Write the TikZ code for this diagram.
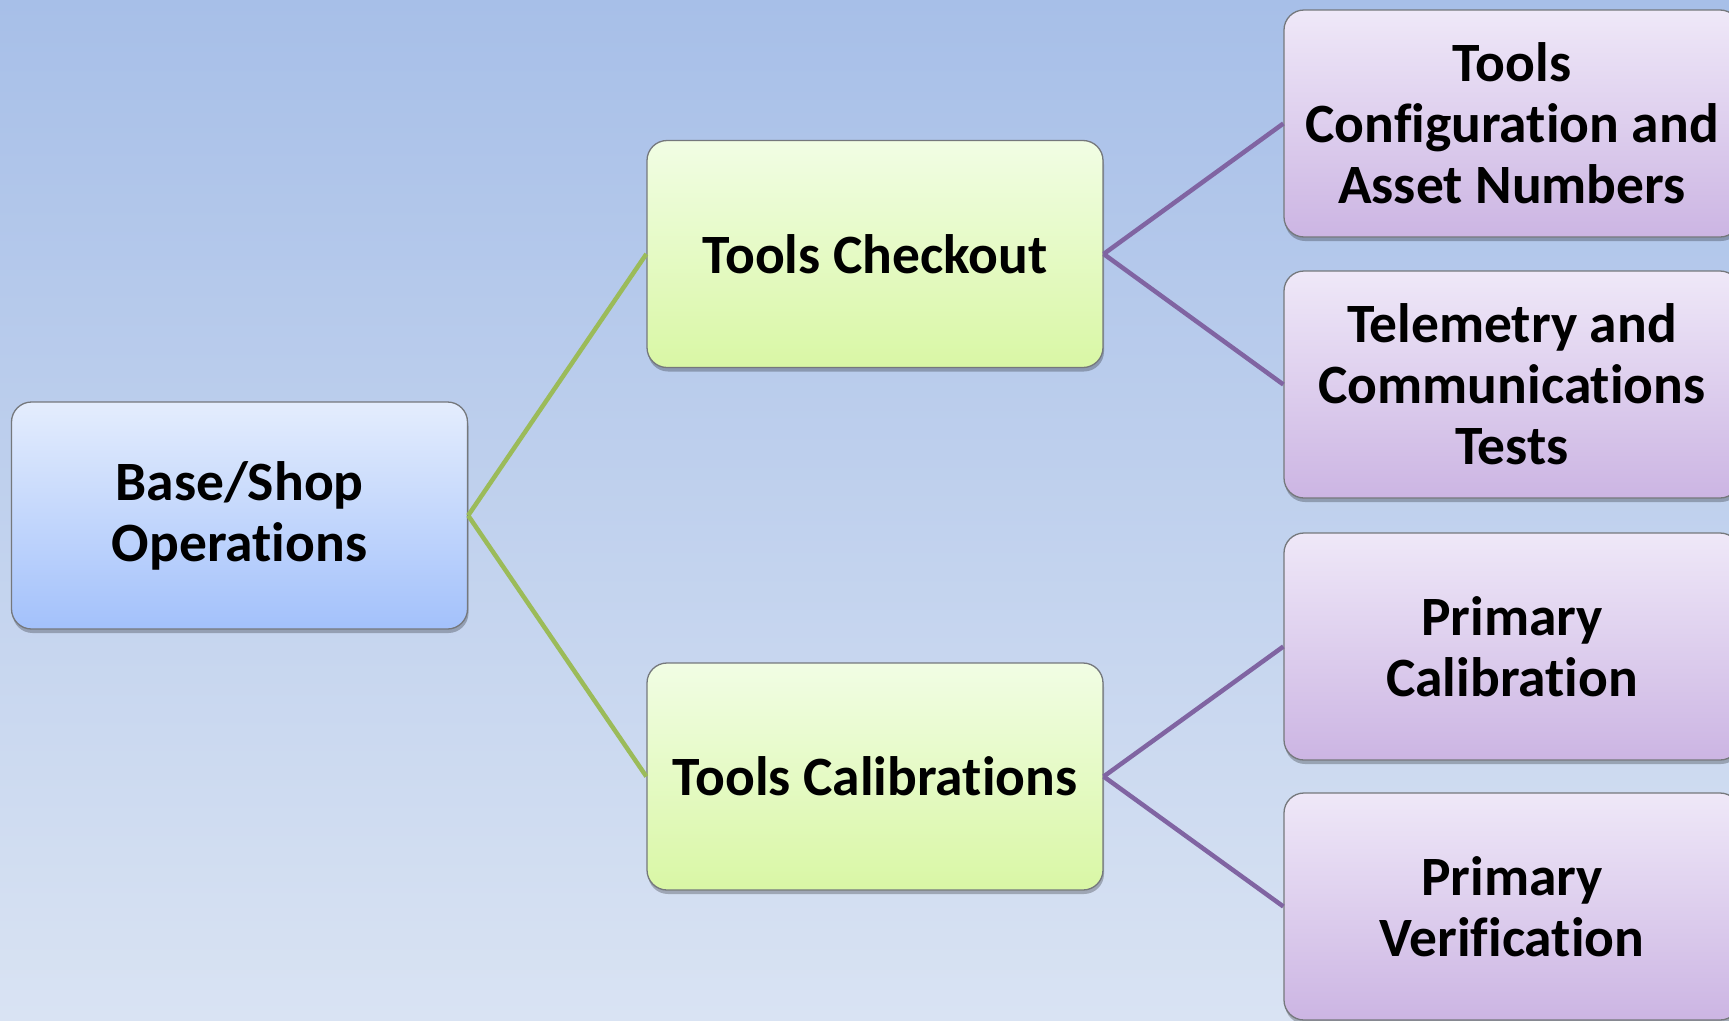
\documentclass[tikz,border=0pt]{standalone}
\usepackage{fontspec}
\setmainfont{Carlito}[Ligatures={NoCommon}]
\usetikzlibrary{shadows}
\definecolor{bgtop}{HTML}{A7BFE8}
\definecolor{bgbot}{HTML}{D9E3F3}
\definecolor{bluetop}{HTML}{E4EDFD}
\definecolor{bluebot}{HTML}{A3C1FB}
\definecolor{greentop}{HTML}{F1FDE4}
\definecolor{greenbot}{HTML}{D9F7A5}
\definecolor{purpletop}{HTML}{EFE8F8}
\definecolor{purplebot}{HTML}{CCB5E3}
\definecolor{boxedge}{HTML}{75787C}
\definecolor{greenline}{HTML}{9BBB59}
\definecolor{purpleline}{HTML}{8064A2}
\tikzset{
  card/.style={draw=boxedge, line width=1.3pt, rounded corners=20pt,
    minimum width=456pt, minimum height=227pt, inner sep=0pt, align=center,
    font={\fontsize{55.5}{61}\selectfont\bfseries},
    drop shadow={shadow xshift=1pt, shadow yshift=-4pt, opacity=0.25, fill=black}},
  basebox/.style={card, top color=bluetop, bottom color=bluebot},
  midbox/.style={card, top color=greentop, bottom color=greenbot},
  leafbox/.style={card, top color=purpletop, bottom color=purplebot},
  greenlink/.style={draw=greenline, line width=4.5pt},
  purplelink/.style={draw=purpleline, line width=4.5pt}
}
\begin{document}
\begin{tikzpicture}[x=1pt,y=-1pt]
\useasboundingbox (0,0) rectangle (1729,1020);
\clip (0,0) rectangle (1729,1020);
% background wash
\fill[top color=bgtop, bottom color=bgbot] (0,0) rectangle (1729,1020);

% boxes
\node[basebox] (base) at (239.5,515.5) {Base/Shop\\Operations};
\node[midbox] (chk) at (875,254) {Tools Checkout};
\node[midbox] (cal) at (875,776.5) {Tools Calibrations};
\node[leafbox] (cfg) at (1512,123.5) {Tools\\Configuration and\\Asset Numbers};
\node[leafbox] (tel) at (1512,384.5) {Telemetry and\\Communications\\Tests};
\node[leafbox] (pc) at (1512,646.5) {Primary\\Calibration};
\node[leafbox] (pv) at (1512,906.5) {Primary\\Verification};

% connectors
\draw[greenlink] (base.east) -- (chk.west);
\draw[greenlink] (base.east) -- (cal.west);
\draw[purplelink] (chk.east) -- (cfg.west);
\draw[purplelink] (chk.east) -- (tel.west);
\draw[purplelink] (cal.east) -- (pc.west);
\draw[purplelink] (cal.east) -- (pv.west);
\end{tikzpicture}
\end{document}
